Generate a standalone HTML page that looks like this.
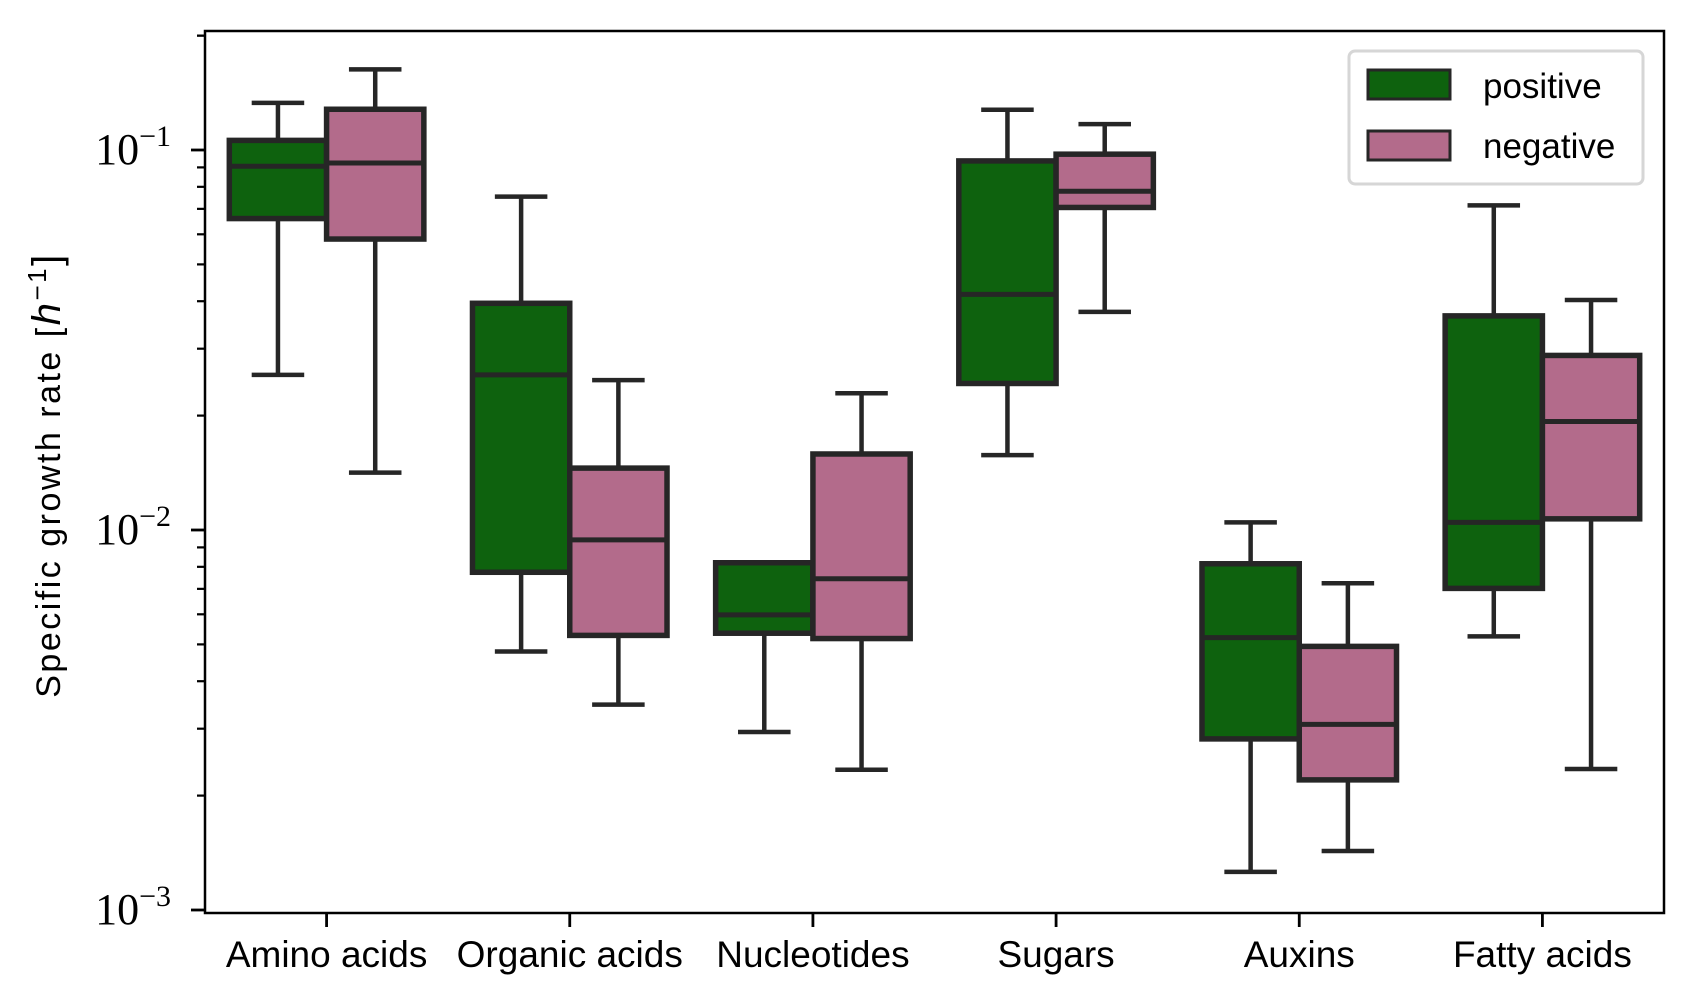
<!DOCTYPE html>
<html><head><meta charset="utf-8"><style>
html,body{margin:0;padding:0;background:#fff;}
svg{display:block;}
text{font-family:"Liberation Sans",sans-serif;fill:#000;}
text.serif{font-family:"Liberation Serif",serif;}
</style></head><body>
<svg id="chart" width="1694" height="1005" viewBox="0 0 1694 1005" xmlns="http://www.w3.org/2000/svg">
<g id="plot"></g>
</svg>
<script>
const categories = ["Amino acids","Organic acids","Nucleotides","Sugars","Auxins","Fatty acids"];
const seriesNames = ["positive","negative"];
// [whiskerLow, Q1, median, Q3, whiskerHigh]
const positiveStats = [
  [0.0256,0.066,0.0906,0.106,0.133],
  [0.00479,0.00774,0.0256,0.0395,0.0754],
  [0.00294,0.00535,0.00598,0.0082,0.0082],
  [0.01574,0.0243,0.0417,0.0936,0.1276],
  [0.00126,0.00282,0.00521,0.00815,0.01047],
  [0.00525,0.00702,0.01047,0.0366,0.0715]
];
const negativeStats = [
  [0.01416,0.0583,0.0924,0.128,0.163],
  [0.00347,0.00528,0.00942,0.01455,0.0248],
  [0.00234,0.00518,0.00744,0.01585,0.0229],
  [0.0375,0.0706,0.0779,0.0975,0.117],
  [0.00143,0.0022,0.00308,0.00494,0.00724],
  [0.00235,0.0107,0.0193,0.0288,0.0403]
];
const majorTicks = [-3,-2,-1];
const majorTickLabels = ["−3","−2","−1"];

const NS="http://www.w3.org/2000/svg";
const svg=document.getElementById('chart');
const L=205,R=1664,T=31,B=913;
const y1=150, decade=380;
function y(v){return y1-(Math.log10(v)+1)*decade;}
const step=(R-L)/categories.length;
function xc(i){return L+step*(i+0.5);}
const colors=["#0e620e","#b36b8b"], edge="#262626";
function mk(tag,attrs,parent){const e=document.createElementNS(NS,tag);for(const k in attrs)e.setAttribute(k,attrs[k]);(parent||svg).appendChild(e);return e;}

const plot=document.getElementById('plot');
const allStats=[positiveStats,negativeStats];
const bw=step*0.4;
allStats.forEach((stats,s)=>{
  stats.forEach((d,i)=>{
    const cx=xc(i)+(s===0?-0.5:0.5)*bw;
    const g=mk('g',{},plot);
    
    
    const lw=4.5;
    mk('line',{x1:cx,x2:cx,y1:y(d[0]),y2:y(d[1]),stroke:edge,'stroke-width':lw},g);
    mk('line',{x1:cx,x2:cx,y1:y(d[3]),y2:y(d[4]),stroke:edge,'stroke-width':lw},g);
    mk('line',{x1:cx-bw*0.27,x2:cx+bw*0.27,y1:y(d[0]),y2:y(d[0]),stroke:edge,'stroke-width':lw},g);
    mk('line',{x1:cx-bw*0.27,x2:cx+bw*0.27,y1:y(d[4]),y2:y(d[4]),stroke:edge,'stroke-width':lw},g);
    mk('rect',{x:cx-bw/2,y:y(d[3]),width:bw,height:y(d[1])-y(d[3]),fill:colors[s],stroke:edge,'stroke-width':5.5},g);
    mk('line',{x1:cx-bw/2,x2:cx+bw/2,y1:y(d[2]),y2:y(d[2]),stroke:edge,'stroke-width':5},g);
  });
});

const frame=mk('rect',{x:L,y:T,width:R-L,height:B-T,fill:'none',stroke:'#000','stroke-width':2.5});



for(let e=-3;e<=-1;e++){
  for(let m=1;m<=9;m++){
    const v=m*Math.pow(10,e);
    const yy=y(v);
    if(yy<T-1||yy>B+1)continue;
    mk('line',{x1:L,x2:L-(m===1?14:8),y1:yy,y2:yy,stroke:'#000','stroke-width':m===1?2.8:2.2});
  }
}
{const yy=y(0.2);mk('line',{x1:L,x2:L-8,y1:yy,y2:yy,stroke:'#000','stroke-width':2.2});}
majorTicks.forEach((e,k)=>{
  const t=mk('text',{x:171,y:y(Math.pow(10,e))+14,'text-anchor':'end','font-size':44,'class':'serif'});
  
  
  t.textContent='10';
  const sp=document.createElementNS(NS,'tspan');
  sp.setAttribute('dy','-18');sp.setAttribute('font-size','30');
  sp.textContent=majorTickLabels[k];
  t.appendChild(sp);
});
categories.forEach((c,i)=>{
  mk('line',{x1:xc(i),x2:xc(i),y1:B,y2:B+14,stroke:'#000','stroke-width':2.8});
  const t=mk('text',{x:xc(i),y:967,'text-anchor':'middle','font-size':37});
  
  
  t.textContent=c;
});
const yt=mk('text',{x:0,y:0,'text-anchor':'middle','font-size':34,transform:'translate(60,475) rotate(-90)','letter-spacing':'2.5'});


yt.innerHTML='Specific growth rate [<tspan class="serif" font-style="italic" font-size="40">h</tspan><tspan dy="-14" font-size="26" class="serif">−1</tspan><tspan dy="14" class="serif" font-size="40">]</tspan>';

const lg=mk('g',{});


mk('rect',{x:1349,y:51,width:294,height:133,rx:6,fill:'#fff',stroke:'#d6d6d6','stroke-width':3},lg);
seriesNames.forEach((n,s)=>{
  const e=mk('g',{},lg);
  
  
  mk('rect',{x:1368,y:70+s*61,width:82,height:29,fill:colors[s],stroke:edge,'stroke-width':3},e);
  const t=mk('text',{x:1483,y:98+s*60,'font-size':35},e);
  t.textContent=n;
});
</script>
</body></html>
